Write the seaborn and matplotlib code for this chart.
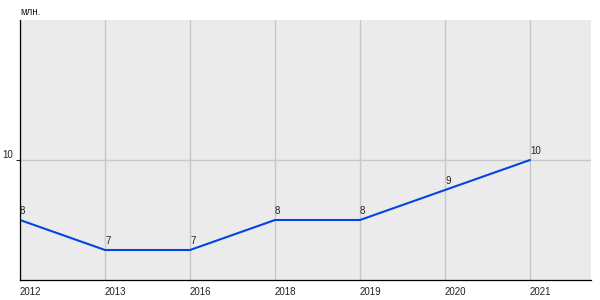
import matplotlib
matplotlib.use("Agg")
import matplotlib.pyplot as plt
import seaborn as sns
import pandas as pd

years = ["2012", "2013", "2016", "2018", "2019", "2020", "2021"]
values = [8, 7, 7, 8, 8, 9, 10]
unit_label = "млн."

sns.set_theme(style="white")
plt.rcParams['font.family'] = ['Liberation Sans', 'DejaVu Sans']

df = pd.DataFrame({"year": years, "value": values})
df["pos"] = range(len(years))

fig = plt.figure(figsize=(6, 3), dpi=100)
ax = fig.add_axes([20/600, 1 - 280/300, 571/600, 260/300])
ax.set_facecolor("#ebebeb")

sns.lineplot(data=df, x="pos", y="value", ax=ax, color="#0046e0", linewidth=1.5)

ax.set_xlim(0, 571/85)
ax.set_ylim(6, 10 + 140/30)
ax.set_xticks(df["pos"])
ax.set_xticklabels(years, ha="left", fontsize=7, color="#222222")
ax.set_yticks([10])
ax.set_yticklabels(["10"], fontsize=7, color="#222222", va="bottom")
ax.tick_params(axis="x", length=0, pad=5)
ax.tick_params(axis="y", length=3, width=0.8, pad=2, direction="out", left=True)
ax.grid(True, color="#c8c8c8", linewidth=1)
ax.set_axisbelow(True)
ax.set_xlabel("")
ax.set_ylabel("")

for s in ["top", "right"]:
    ax.spines[s].set_visible(False)
for s in ["left", "bottom"]:
    ax.spines[s].set_color("black")
    ax.spines[s].set_linewidth(0.9)

for p, v in zip(df["pos"], df["value"]):
    ax.annotate(str(v), (p, v), xytext=(0, 3), textcoords="offset points",
                ha="left", va="bottom", fontsize=7, color="#222222")

fig.text(20/600, 1 - 12/300, unit_label, fontsize=7, color="#222222", va="center", ha="left")

fig.savefig("out.png", dpi=100)
